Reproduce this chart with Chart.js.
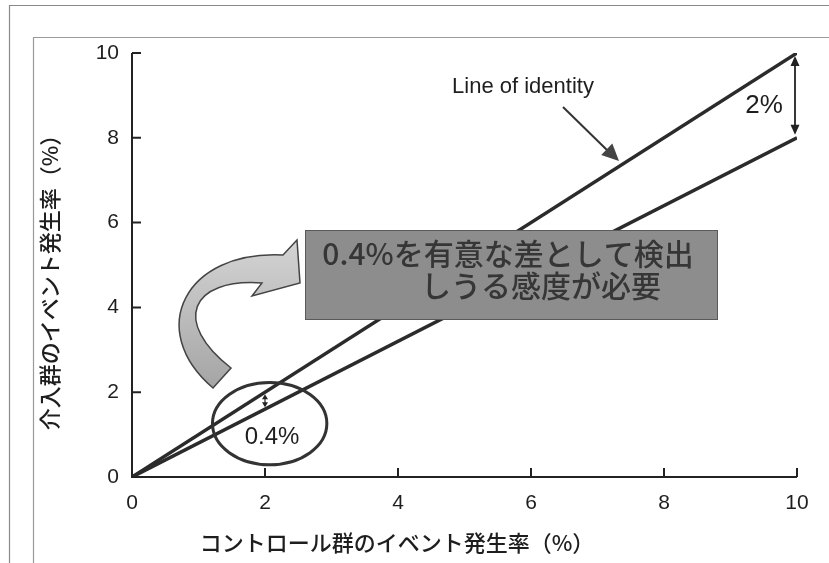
<!DOCTYPE html>
<html>
<head>
<meta charset="utf-8">
<script src="https://cdn.jsdelivr.net/npm/chart.js@4.4.1/dist/chart.umd.min.js"></script>
<style>
  html, body { margin: 0; padding: 0; background: #fff; }
  #wrap { width: 829px; height: 563px; position: relative; }
</style>
</head>
<body>
<div id="wrap"><canvas id="c" width="829" height="563"></canvas></div>
<script>
// ---- data ----
const xTicks = [0, 2, 4, 6, 8, 10];
const yTicks = [0, 2, 4, 6, 8, 10];
const controlRate = [0, 10];        // コントロール群のイベント発生率 (%)
const identityRate = [0, 10];       // line of identity: 介入群 = コントロール群
const interventionRate = [0, 8];    // 介入群のイベント発生率 (%)
const xTitle = 'コントロール群のイベント発生率（%）';
const yTitle = '介入群のイベント発生率（%）';
const identityLabel = 'Line of identity';
const boxLines = ['0.4%を有意な差として検出', 'しうる感度が必要'];
const gapX = [2, 10];               // control rates where the gap is marked

const LAT = '"Liberation Sans", Arial, sans-serif';
const JP = '"Noto Sans CJK JP", sans-serif';

function pts(xs, ys) { return xs.map((v, i) => ({ x: v, y: ys[i] })); }
function interp(xs, ys, v) { // value of a straight series at v
  return ys[0] + (ys[1] - ys[0]) * (v - xs[0]) / (xs[1] - xs[0]);
}

function arrowHead(ctx, x1, y1, x2, y2, len, half, color) {
  const a = Math.atan2(y2 - y1, x2 - x1);
  ctx.save();
  ctx.fillStyle = color;
  ctx.beginPath();
  ctx.moveTo(x2, y2);
  ctx.lineTo(x2 - len * Math.cos(a) + half * Math.sin(a), y2 - len * Math.sin(a) - half * Math.cos(a));
  ctx.lineTo(x2 - len * Math.cos(a) - half * Math.sin(a), y2 - len * Math.sin(a) + half * Math.cos(a));
  ctx.closePath();
  ctx.fill();
  ctx.restore();
}

const deco = {
  id: 'deco',
  beforeDraw(chart) {
    const ctx = chart.ctx;
    ctx.save();
    ctx.fillStyle = '#fff';
    ctx.fillRect(0, 0, chart.width, chart.height);
    // slide frames
    ctx.strokeStyle = '#8a8a8a';
    ctx.lineWidth = 1.2;
    ctx.beginPath();
    ctx.moveTo(9.5, chart.height); ctx.lineTo(9.5, 5.5); ctx.lineTo(chart.width, 5.5);
    ctx.stroke();
    ctx.strokeStyle = '#9a9a9a';
    ctx.beginPath();
    ctx.moveTo(33.5, chart.height); ctx.lineTo(33.5, 37.5); ctx.lineTo(chart.width, 37.5);
    ctx.stroke();
    ctx.restore();
  },
  afterDatasetsDraw(chart) {
    const ctx = chart.ctx;
    const x = chart.scales.x, y = chart.scales.y;
    const X = v => x.getPixelForValue(v), Y = v => y.getPixelForValue(v);
    ctx.save();

    // axes with inward ticks
    ctx.strokeStyle = '#222';
    ctx.lineWidth = 2;
    ctx.beginPath();
    ctx.moveTo(X(0), Y(yTicks[yTicks.length - 1]));
    ctx.lineTo(X(0), Y(0));
    ctx.lineTo(X(xTicks[xTicks.length - 1]), Y(0));
    yTicks.forEach(t => { ctx.moveTo(X(0), Y(t)); ctx.lineTo(X(0) + 9, Y(t)); });
    xTicks.forEach(t => { ctx.moveTo(X(t), Y(0)); ctx.lineTo(X(t), Y(0) - 9); });
    ctx.stroke();

    // axis titles
    ctx.fillStyle = '#1e1e1e';
    ctx.font = '500 22px ' + JP;
    ctx.textAlign = 'center';
    ctx.textBaseline = 'middle';
    ctx.fillText(xTitle, 397, 543);
    ctx.save();
    ctx.translate(50, 277);
    ctx.rotate(-Math.PI / 2);
    ctx.fillText(yTitle, 0, 0);
    ctx.restore();

    // "Line of identity" label and arrow
    ctx.font = '22px ' + LAT;
    ctx.fillStyle = '#1e1e1e';
    ctx.fillText(identityLabel, 523, 87);
    ctx.strokeStyle = '#333';
    ctx.lineWidth = 2;
    ctx.beginPath();
    ctx.moveTo(563, 107); ctx.lineTo(608, 151);
    ctx.stroke();
    arrowHead(ctx, 563, 107, 619, 161, 17, 8, '#444');

    // 2% gap at the right end
    const xr = gapX[1];
    const top = Y(interp(controlRate, identityRate, xr));
    const bot = Y(interp(controlRate, interventionRate, xr));
    const ax = X(xr) - 2;
    ctx.strokeStyle = '#222';
    ctx.lineWidth = 1.8;
    ctx.beginPath();
    ctx.moveTo(ax, top + 8); ctx.lineTo(ax, bot - 8);
    ctx.stroke();
    arrowHead(ctx, ax, bot, ax, top + 3, 10, 4.5, '#222');
    arrowHead(ctx, ax, top, ax, bot - 3, 10, 4.5, '#222');
    const dTen = interp(controlRate, identityRate, xr) - interp(controlRate, interventionRate, xr);
    ctx.font = '26px ' + LAT;
    ctx.fillStyle = '#1e1e1e';
    ctx.fillText(dTen.toFixed(0) + '%', 764, 106);

    // 0.4% gap near x = 2
    const xl = gapX[0];
    const t2 = Y(interp(controlRate, identityRate, xl));
    const b2 = Y(interp(controlRate, interventionRate, xl));
    const sx = X(xl);
    ctx.lineWidth = 1.2;
    ctx.beginPath();
    ctx.moveTo(sx, t2 + 4); ctx.lineTo(sx, b2 - 4);
    ctx.stroke();
    arrowHead(ctx, sx, b2, sx, t2 + 2, 5, 3, '#222');
    arrowHead(ctx, sx, t2, sx, b2 - 2, 5, 3, '#222');
    const dTwo = interp(controlRate, identityRate, xl) - interp(controlRate, interventionRate, xl);
    ctx.font = '24px ' + LAT;
    ctx.fillStyle = '#1e1e1e';
    ctx.fillText(dTwo.toFixed(1) + '%', 272, 437);

    // ellipse around the small gap
    ctx.strokeStyle = '#333';
    ctx.lineWidth = 3;
    ctx.beginPath();
    ctx.ellipse(X(2.07), Y(1.26), X(0.86) - X(0), Y(0) - Y(0.97), 0, 0, Math.PI * 2);
    ctx.stroke();

    // curved arrow pointing to the message box
    const g = ctx.createLinearGradient(0, 240, 0, 390);
    g.addColorStop(0, '#d4d4d4');
    g.addColorStop(1, '#a4a4a4');
    ctx.fillStyle = g;
    ctx.strokeStyle = '#444';
    ctx.lineWidth = 1.5;
    ctx.beginPath();
    ctx.moveTo(213, 388);
    ctx.bezierCurveTo(145, 330, 185, 250, 283, 255);
    ctx.lineTo(297, 240);
    ctx.lineTo(300, 283);
    ctx.lineTo(252, 296);
    ctx.lineTo(262, 283);
    ctx.bezierCurveTo(190, 278, 172, 322, 231, 368);
    ctx.closePath();
    ctx.fill();
    ctx.stroke();

    // message box
    ctx.fillStyle = '#8d8d8d';
    ctx.fillRect(305, 230, 413, 90);
    ctx.strokeStyle = '#5a5a5a';
    ctx.lineWidth = 1;
    ctx.strokeRect(305.5, 230.5, 412, 89);
    ctx.font = '500 30px ' + JP;
    ctx.fillStyle = '#363636';
    ctx.fillText(boxLines[0], 508, 254);
    ctx.fillText(boxLines[1], 541, 286);

    ctx.restore();
  }
};

new Chart(document.getElementById('c'), {
  type: 'scatter',
  data: {
    datasets: [
      { label: 'identity', data: pts(controlRate, identityRate), showLine: true,
        borderColor: '#2b2b2b', borderWidth: 3.5, pointRadius: 0, fill: false },
      { label: 'intervention', data: pts(controlRate, interventionRate), showLine: true,
        borderColor: '#2b2b2b', borderWidth: 3.5, pointRadius: 0, fill: false }
    ]
  },
  options: {
    responsive: false,
    animation: false,
    devicePixelRatio: 1,
    layout: { padding: { left: 0, top: 53, right: 32, bottom: 0 } },
    plugins: { legend: { display: false }, tooltip: { enabled: false } },
    scales: {
      x: {
        type: 'linear', min: 0, max: 10,
        afterBuildTicks: s => { s.ticks = xTicks.map(v => ({ value: v })); },
        afterFit: s => { s.height = 86; },
        grid: { display: false, drawTicks: false },
        border: { display: false },
        ticks: { padding: 14, color: '#1e1e1e', font: { family: 'Liberation Sans', size: 21 } }
      },
      y: {
        type: 'linear', min: 0, max: 10,
        afterBuildTicks: s => { s.ticks = yTicks.map(v => ({ value: v })); },
        afterFit: s => { s.width = 132; },
        grid: { display: false, drawTicks: false },
        border: { display: false },
        ticks: { padding: 13, color: '#1e1e1e', font: { family: 'Liberation Sans', size: 21 } }
      }
    }
  },
  plugins: [deco]
});
</script>
</body>
</html>
